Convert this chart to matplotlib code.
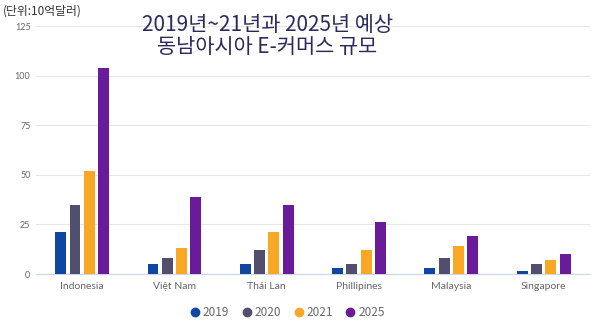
import numpy as np
import matplotlib.pyplot as plt
from matplotlib.lines import Line2D

plt.rcParams['font.family'] = ['Noto Sans CJK KR', 'DejaVu Sans']

countries = ['Indonesia', 'Việt Nam', 'Thái Lan', 'Phillipines', 'Malaysia', 'Singapore']
years = ['2019', '2020', '2021', '2025']
v2019 = [21, 5, 5, 3, 3, 1.5]
v2020 = [35, 8, 12, 5, 8, 5]
v2021 = [52, 13, 21, 12, 14, 7]
v2025 = [104, 39, 35, 26, 19, 10]
colors = ['#0d47a1', '#524e6e', '#f9a826', '#6a1b9a']

series = [v2019, v2020, v2021, v2025]

fig = plt.figure(figsize=(6, 3.27), dpi=100)
ax = fig.add_axes([0.06, 0.162, 0.923, 0.758])

x = np.arange(len(countries))
step = 0.155
width = 0.118
for i, (vals, c) in enumerate(zip(series, colors)):
    ax.bar(x + (i - 1.5) * step, vals, width, color=c, zorder=3)

ax.set_xlim(-0.5, len(countries) - 0.5)
ax.set_ylim(0, 125)
ax.set_yticks([0, 25, 50, 75, 100, 125])
ax.grid(axis='y', color='#e6e6e6', linewidth=0.8, zorder=0)
for s in ['top', 'right', 'left']:
    ax.spines[s].set_visible(False)
ax.spines['bottom'].set_color('#ccd6eb')
ax.tick_params(axis='both', length=0, colors='#666666')
ax.tick_params(axis='y', labelsize=6.5, pad=4)
ax.tick_params(axis='x', labelsize=7.5, pad=6)
ax.set_xticks(x)
ax.set_xticklabels(countries, family=['Lato', 'DejaVu Sans'])
for lab in ax.get_yticklabels():
    lab.set_family(['Lato', 'DejaVu Sans'])

fig.text(0.445, 0.89, '2019년~21년과 2025년 예상\n동남아시아 E-커머스 규모',
         ha='center', va='center', fontsize=15, color='#2b2a5c',
         linespacing=1.0)
fig.text(0.004, 0.965, '(단위:10억달러)', ha='left', va='center',
         fontsize=8.5, color='#333333')

handles = [Line2D([], [], marker='o', linestyle='', markersize=6,
                  color=c, label=y) for y, c in zip(years, colors)]
leg = fig.legend(handles=handles, loc='center', bbox_to_anchor=(0.477, 0.045),
                 ncol=4, frameon=False, fontsize=8.5, handletextpad=0.05,
                 columnspacing=0.9, handlelength=1.2)
for t in leg.get_texts():
    t.set_color('#666666')

fig.savefig('out.png', dpi=100)
